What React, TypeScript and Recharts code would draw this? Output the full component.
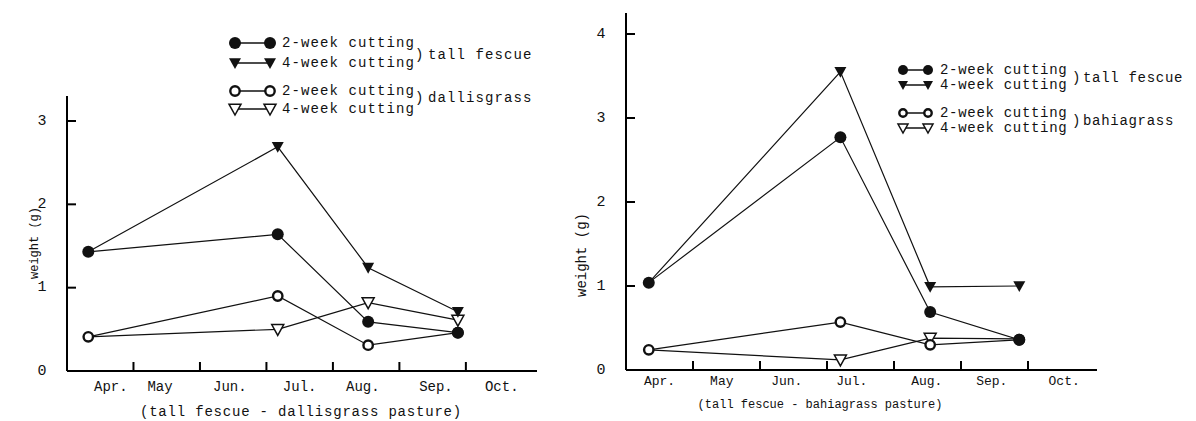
import { LineChart, Line, XAxis, YAxis, Legend, ReferenceLine } from "recharts";

// x values are months counted from Apr. 1 (1 = May 1, 2 = Jun. 1, ...)
const MONTHS = ["Apr.", "May", "Jun.", "Jul.", "Aug.", "Sep.", "Oct."];
const MONTH_STARTS = [1, 2, 3, 4, 5, 6];

// left panel: tall fescue - dallisgrass pasture
const dallisDates = [0.32, 3.17, 4.53, 5.88];
const dallisFescue2 = [1.43, 1.64, 0.59, 0.46];
const dallisFescue4 = [1.43, 2.69, 1.24, 0.71];
const dallis2 = [0.41, 0.9, 0.31, 0.46];
const dallis4 = [0.41, 0.5, 0.82, 0.61];
const dallisMonthPos = [0.66, 1.4, 2.45, 3.5, 4.45, 5.55, 6.54];

// right panel: tall fescue - bahiagrass pasture
const bahiaDates = [0.34, 3.2, 4.54, 5.87];
const bahiaFescue2 = [1.04, 2.77, 0.69, 0.36];
const bahiaFescue4 = [1.04, 3.55, 0.99, 1.0];
const bahia2 = [0.24, 0.57, 0.3, 0.36];
const bahia4 = [0.24, 0.12, 0.38, 0.37];
const bahiaMonthPos = [0.5, 1.43, 2.4, 3.37, 4.49, 5.46, 6.54];

const FONT = "'Liberation Mono', 'DejaVu Sans Mono', monospace";
const INK = "#111";
const TICK_PX = 9; // inward tick mark length
const Y_AXIS_W = 60;

type Kind = "fcircle" | "ftri" | "ocircle" | "otri";

function Marker({ kind, cx, cy, r = 6 }: { kind: Kind; cx: number; cy: number; r?: number }) {
    if (kind === "fcircle") return <circle cx={cx} cy={cy} r={r} fill={INK} />;
    if (kind === "ocircle")
        return <circle cx={cx} cy={cy} r={r - 1.3} fill="#fff" stroke={INK} strokeWidth={2.4} />;
    const w = r;
    const pts = `${cx - w},${cy - w * 0.8} ${cx + w},${cy - w * 0.8} ${cx},${cy + w}`;
    if (kind === "ftri") return <polygon points={pts} fill={INK} />;
    return <polygon points={pts} fill="#fff" stroke={INK} strokeWidth={1.5} />;
}

function WeightTick(props: any) {
    const { x, y, payload } = props;
    return (
        <text x={x} y={y} textAnchor="middle" dominantBaseline="central"
            fontFamily={FONT} fontSize={15} fill={INK}>
            {payload.value}
        </text>
    );
}

type LegendCfg = {
    left: number; top: number; w: number; h: number;
    rows: number[]; mx: [number, number]; r: number;
    textX: number; spacing: number;
    braceX: number; groupX: number; groupY: [number, number];
    grass: string;
};

function LegendBox({ c }: { c: LegendCfg }) {
    const kinds: Kind[] = ["fcircle", "ftri", "ocircle", "otri"];
    const labels = ["2-week cutting", "4-week cutting", "2-week cutting", "4-week cutting"];
    const txt = { fontFamily: FONT, fontSize: 14, fill: INK };
    return (
        <svg width={c.w} height={c.h} style={{ overflow: "visible" }}>
            {kinds.map((k, i) => (
                <g key={k}>
                    <line x1={c.mx[0]} x2={c.mx[1]} y1={c.rows[i]} y2={c.rows[i]} stroke={INK} strokeWidth={1.5} />
                    <Marker kind={k} cx={c.mx[0]} cy={c.rows[i]} r={c.r} />
                    <Marker kind={k} cx={c.mx[1]} cy={c.rows[i]} r={c.r} />
                    <text x={c.textX} y={c.rows[i]} dominantBaseline="central" letterSpacing={c.spacing} {...txt}>
                        {labels[i]}
                    </text>
                </g>
            ))}
            {["tall fescue", c.grass].map((g, j) => (
                <g key={g}>
                    <text x={c.braceX} y={c.groupY[j]} dominantBaseline="central" {...txt}>)</text>
                    <text x={c.groupX} y={c.groupY[j]} dominantBaseline="central" letterSpacing={c.spacing} {...txt}>
                        {g}
                    </text>
                </g>
            ))}
        </svg>
    );
}

type PanelProps = {
    left: number; width: number;
    margin: { top: number; right: number; bottom: number; left: number };
    xAxisHeight: number; xMax: number; yMax: number; yTicks: number[];
    dates: number[]; f2: number[]; f4: number[]; g2: number[]; g4: number[];
    monthPos: number[]; monthDy: number; monthFont: number;
    title: string; titleX: number; titleDy: number; titleFont: number; titleSpacing: number;
    yTitleX: number; yTitleY: number; yTitleFont: number;
    hideOpenTri: number[];
    legend: LegendCfg;
};

function Panel(p: PanelProps) {
    const data = p.dates.map((m, i) => ({ m, f2: p.f2[i], f4: p.f4[i], g2: p.g2[i], g4: p.g4[i] }));

    // tick-mark lengths expressed in axis units
    const plotW = p.width - p.margin.left - p.margin.right - Y_AXIS_W;
    const plotH = 421 - p.margin.top - p.margin.bottom - p.xAxisHeight;
    const tickDx = (TICK_PX * p.xMax) / plotW;
    const tickDy = (TICK_PX * p.yMax) / plotH;

    const dotFor = (kind: Kind, hidden: number[]) => (props: any) => {
        const { cx, cy, index } = props;
        if (hidden.includes(index)) return <g key={`${kind}-${index}`} />;
        return <Marker key={`${kind}-${index}`} kind={kind} cx={cx} cy={cy} />;
    };

    const series: { key: string; kind: Kind; hidden: number[] }[] = [
        { key: "g4", kind: "otri", hidden: p.hideOpenTri },
        { key: "g2", kind: "ocircle", hidden: [] },
        { key: "f4", kind: "ftri", hidden: [0] },
        { key: "f2", kind: "fcircle", hidden: [] },
    ];

    return (
        <div style={{ position: "absolute", left: p.left, top: 0, width: p.width, height: 421 }}>
            <LineChart width={p.width} height={421} data={data} margin={p.margin}>
                <XAxis
                    type="number"
                    dataKey="m"
                    domain={[0, p.xMax]}
                    ticks={MONTH_STARTS}
                    interval={0}
                    tick={false}
                    tickLine={false}
                    height={p.xAxisHeight}
                    axisLine={{ stroke: "#000", strokeWidth: 2 }}
                    label={(lp: any) => (
                        <text x={p.titleX} y={lp.viewBox.y + p.titleDy} textAnchor="middle"
                            dominantBaseline="central" fontFamily={FONT} fontSize={p.titleFont} fill={INK}
                            letterSpacing={p.titleSpacing}>
                            {p.title}
                        </text>
                    )}
                />
                <YAxis
                    type="number"
                    domain={[0, p.yMax]}
                    ticks={p.yTicks}
                    interval={0}
                    tickSize={0}
                    tickMargin={25}
                    tickLine={false}
                    width={Y_AXIS_W}
                    axisLine={{ stroke: "#000", strokeWidth: 2 }}
                    tick={<WeightTick />}
                    label={() => (
                        <text x={p.yTitleX} y={p.yTitleY} textAnchor="middle" dominantBaseline="central"
                            transform={`rotate(-90 ${p.yTitleX} ${p.yTitleY})`}
                            fontFamily={FONT} fontSize={p.yTitleFont} fill={INK}>
                            weight (g)
                        </text>
                    )}
                />
                {MONTH_STARTS.map((m) => (
                    <ReferenceLine
                        key={`xt-${m}`}
                        segment={[{ x: m, y: 0 }, { x: m, y: tickDy }]}
                        stroke="#000"
                        strokeWidth={2}
                    />
                ))}
                {p.yTicks.filter((v) => v > 0).map((v) => (
                    <ReferenceLine
                        key={`yt-${v}`}
                        segment={[{ x: 0, y: v }, { x: tickDx, y: v }]}
                        stroke="#000"
                        strokeWidth={2}
                    />
                ))}
                {p.monthPos.map((pos, i) => (
                    <ReferenceLine
                        key={MONTHS[i]}
                        x={pos}
                        stroke="none"
                        label={(lp: any) => (
                            <text x={lp.viewBox.x} y={lp.viewBox.y + lp.viewBox.height + p.monthDy}
                                textAnchor="middle" dominantBaseline="central"
                                fontFamily={FONT} fontSize={p.monthFont} fill={INK}>
                                {MONTHS[i]}
                            </text>
                        )}
                    />
                ))}
                <Legend
                    layout="horizontal"
                    verticalAlign="middle"
                    align="center"
                    wrapperStyle={{ position: "absolute", left: p.legend.left, top: p.legend.top, width: p.legend.w, height: p.legend.h }}
                    content={() => <LegendBox c={p.legend} />}
                />
                {series.map((s) => (
                    <Line
                        key={s.key}
                        dataKey={s.key}
                        stroke={INK}
                        strokeWidth={1.2}
                        isAnimationActive={false}
                        dot={dotFor(s.kind, s.hidden)}
                        activeDot={false}
                        legendType="none"
                    />
                ))}
            </LineChart>
        </div>
    );
}

export default function App() {
    return (
        <div style={{ position: "absolute", left: 0, top: 0, width: 1196, height: 421, background: "#fff" }}>
            <Panel
                left={0}
                width={560}
                margin={{ top: 96, right: 23, bottom: 0, left: 7 }}
                xAxisHeight={50}
                xMax={7.07}
                yMax={3.3}
                yTicks={[0, 1, 2, 3]}
                dates={dallisDates}
                f2={dallisFescue2}
                f4={dallisFescue4}
                g2={dallis2}
                g4={dallis4}
                monthPos={dallisMonthPos}
                monthDy={16}
                monthFont={14}
                title="(tall fescue - dallisgrass pasture)"
                titleX={301}
                titleDy={41}
                titleFont={14}
                titleSpacing={0.8}
                yTitleX={35}
                yTitleY={243}
                yTitleFont={12}
                hideOpenTri={[0]}
                legend={{
                    left: 220, top: 30, w: 330, h: 95,
                    rows: [13, 33, 61, 79], mx: [15, 50], r: 6,
                    textX: 62, spacing: 1.1,
                    braceX: 195, groupX: 208, groupY: [25, 68],
                    grass: "dallisgrass",
                }}
            />
            <Panel
                left={560}
                width={636}
                margin={{ top: 13, right: 99, bottom: 0, left: 6 }}
                xAxisHeight={51}
                xMax={7.03}
                yMax={4.25}
                yTicks={[0, 1, 2, 3, 4]}
                dates={bahiaDates}
                f2={bahiaFescue2}
                f4={bahiaFescue4}
                g2={bahia2}
                g4={bahia4}
                monthPos={bahiaMonthPos}
                monthDy={11}
                monthFont={13}
                title="(tall fescue - bahiagrass pasture)"
                titleX={260}
                titleDy={35}
                titleFont={12}
                titleSpacing={0}
                yTitleX={22}
                yTitleY={255}
                yTitleFont={14}
                hideOpenTri={[0, 3]}
                legend={{
                    left: 320, top: 50, w: 316, h: 95,
                    rows: [20, 35, 63, 78], mx: [23, 48], r: 5,
                    textX: 60, spacing: 0.7,
                    braceX: 192, groupX: 203, groupY: [28, 71],
                    grass: "bahiagrass",
                }}
            />
        </div>
    );
}
